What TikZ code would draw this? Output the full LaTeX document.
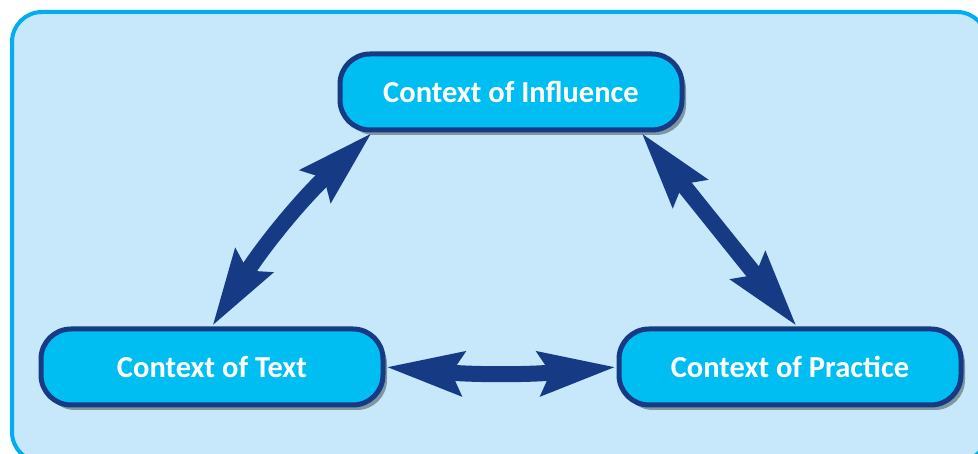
\documentclass[tikz,border=0pt]{standalone}
\usepackage{fontspec}
\setmainfont{Carlito}
\usetikzlibrary{arrows.meta,shadows,calc}
\definecolor{framefill}{HTML}{C6E8FA}
\definecolor{frameline}{HTML}{00AEEF}
\definecolor{boxfill}{HTML}{00BEF2}
\definecolor{navy}{HTML}{163A84}
\tikzset{
  ctxbox/.style={draw=navy, line width=5pt, fill=boxfill, rounded corners=30pt,
    minimum width=342pt, minimum height=76pt, inner sep=0pt,
    text=white, font=\fontsize{30.5}{36}\selectfont\bfseries,
    drop shadow={shadow xshift=4pt, shadow yshift=-5pt, opacity=0.35, fill=black}},
  dblarrow/.style={draw=navy, line width=16pt,
    arrows={Stealth[length=76pt, width=42pt, inset=10pt]-Stealth[length=76pt, width=42pt, inset=10pt]}}
}
\begin{document}
\begin{tikzpicture}[x=1pt,y=1pt]
\useasboundingbox (0,0) rectangle (978,454);
\path[fill=framefill, draw=frameline, line width=4pt, rounded corners=30pt]
  (12,-8) rectangle (987,442);
\node[ctxbox] (top) at (511,362) {Context of Influence};
\node[ctxbox] (left) at (212,87) {Context of Text};
\node[ctxbox] (right) at (790,87) {Context of Practice};
\draw[dblarrow] (left.north) to[bend left=7] ($(top.south west)!0.1!(top.south east)$);
\draw[dblarrow] ($(top.south west)!0.875!(top.south east)$) -- ($(right.north west)!0.52!(right.north east)$);
\draw[dblarrow] (left.east) to[bend right=5] (right.west);
\end{tikzpicture}
\end{document}
